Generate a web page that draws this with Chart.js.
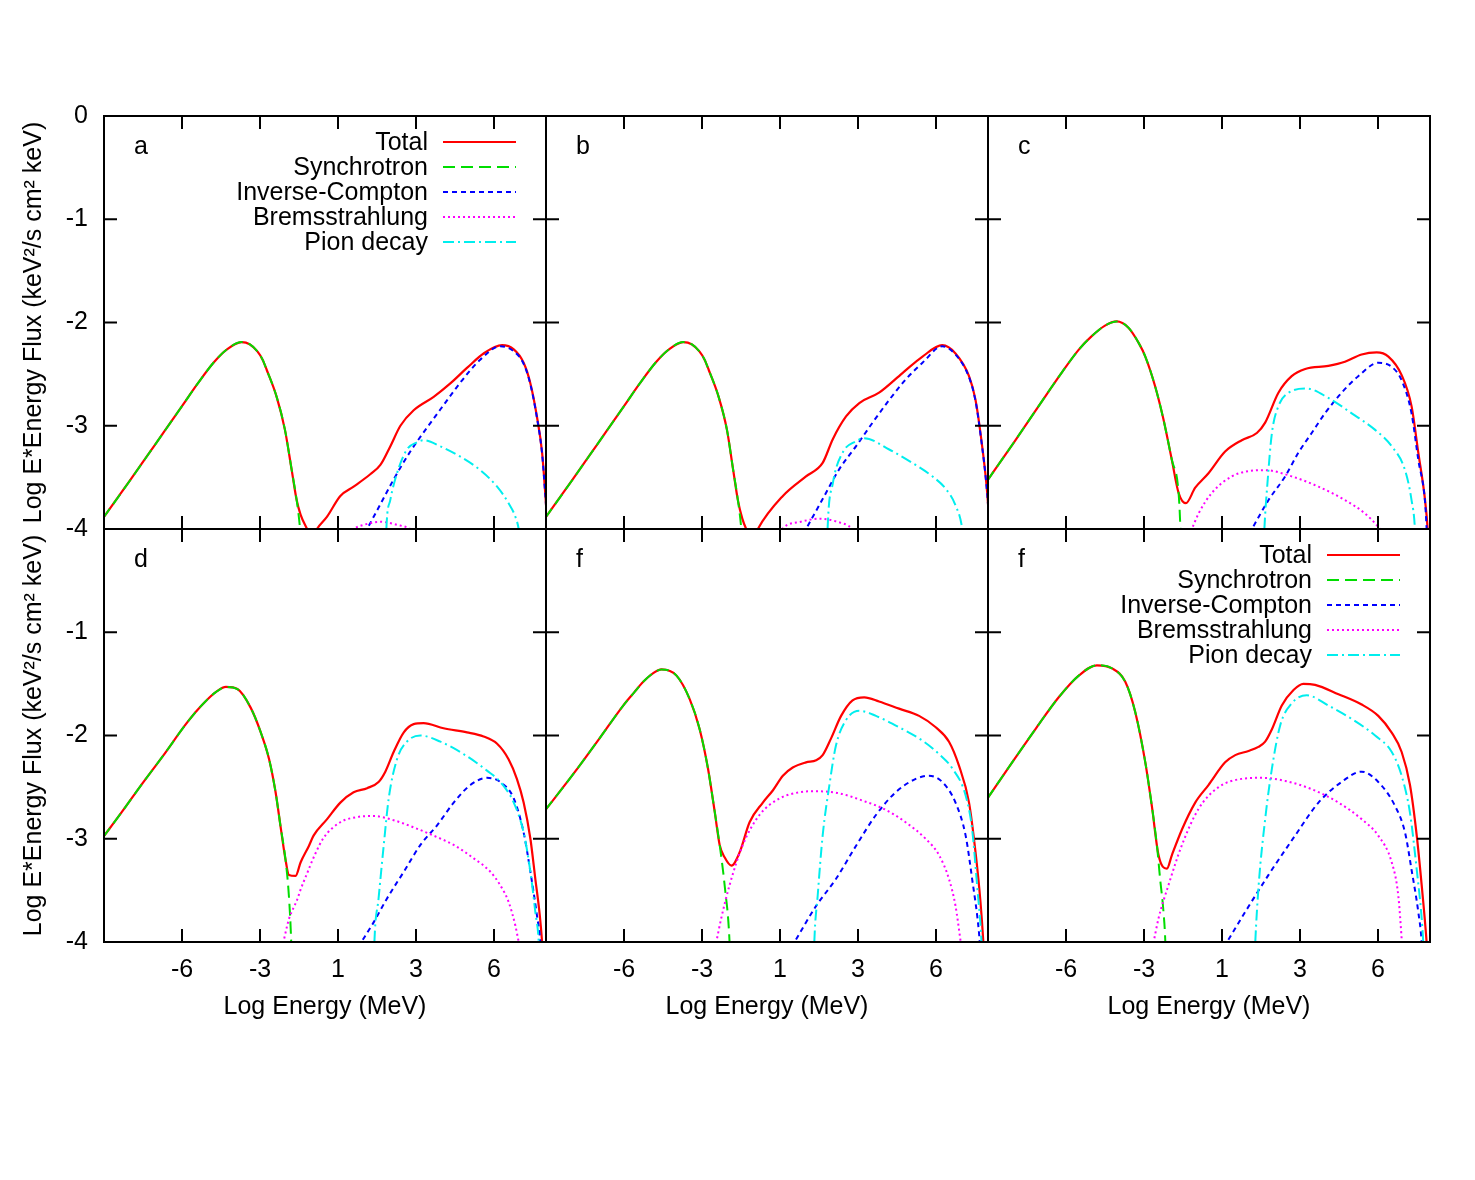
<!DOCTYPE html>
<html>
<head>
<meta charset="utf-8">
<script src="https://cdn.jsdelivr.net/npm/chart.js@4.4.0/dist/chart.umd.min.js"></script>
<style>
  html, body { margin: 0; background: #fff; }
  #wrap { position: relative; width: 1475px; height: 1180px; background: #fff; }
  #wrap canvas { position: absolute; }
</style>
</head>
<body>
<div id="wrap"></div>
<script>
/* Six SED panels — Log E*Energy Flux vs Log Energy, one Chart.js chart per panel */

const X_TICKS = [-6, -3, 0, 3, 6];
const X_TICK_LABELS = ['-6', '-3', '1', '3', '6'];
const Y_TICKS = [0, -1, -2, -3, -4];
const LETTERS = ['a', 'b', 'c', 'd', 'f', 'f'];
const SERIES_NAMES = ['Total', 'Synchrotron', 'Inverse-Compton', 'Bremsstrahlung', 'Pion decay'];

// panel a
const totalA = [[-9.05,-3.9],[-8,-3.53],[-7,-3.17],[-6,-2.81],[-5.42,-2.6],[-4.79,-2.39],[-4.27,-2.26],[-3.7,-2.19],[-3.4,-2.21],[-3.1,-2.28],[-2.9,-2.36],[-2.74,-2.46],[-2.36,-2.72],[-2.04,-3.04],[-1.78,-3.43],[-1.59,-3.72],[-1.44,-3.86],[-1.19,-4.0],[-1.0,-4.1],[-0.81,-4.0],[-0.42,-3.88],[0.09,-3.68],[0.6,-3.59],[1.24,-3.47],[1.63,-3.38],[2.01,-3.2],[2.4,-3.0],[2.91,-2.85],[3.68,-2.72],[4.32,-2.59],[4.96,-2.44],[5.6,-2.3],[6.31,-2.22],[6.76,-2.26],[7.14,-2.39],[7.4,-2.59],[7.65,-2.91],[7.85,-3.26],[7.97,-3.65],[8.05,-3.95]];
const syncA = [[-9.05,-3.9],[-8,-3.53],[-7,-3.17],[-6,-2.81],[-5.42,-2.6],[-4.79,-2.39],[-4.27,-2.26],[-3.7,-2.19],[-3.4,-2.21],[-3.1,-2.28],[-2.9,-2.36],[-2.74,-2.46],[-2.36,-2.72],[-2.04,-3.04],[-1.78,-3.43],[-1.59,-3.72],[-1.46,-4.0],[-1.38,-4.3]];
const icA = [[0.7,-4.2],[1.12,-4.0],[1.63,-3.76],[2.14,-3.52],[2.78,-3.25],[3.42,-3.02],[4.06,-2.8],[4.71,-2.58],[5.47,-2.36],[6.24,-2.23],[6.76,-2.28],[7.14,-2.4],[7.4,-2.6],[7.65,-2.92],[7.85,-3.27],[7.97,-3.66],[8.05,-3.96]];
const bremsA = [[0.4,-4.05],[0.6,-4.0],[0.99,-3.96],[1.63,-3.93],[2.27,-3.96],[2.78,-4.0],[3.0,-4.05]];
const pionA = [[1.84,-4.2],[1.86,-4.0],[2.01,-3.72],[2.27,-3.46],[2.65,-3.23],[3.04,-3.16],[3.29,-3.14],[3.94,-3.2],[4.71,-3.3],[5.47,-3.43],[6.12,-3.59],[6.56,-3.75],[6.82,-3.88],[6.95,-4.0],[7.0,-4.1]];

// panel b
const totalB = [[-9.05,-3.9],[-8,-3.53],[-7,-3.17],[-6,-2.81],[-5.42,-2.6],[-4.79,-2.39],[-4.27,-2.26],[-3.72,-2.19],[-3.4,-2.21],[-3.1,-2.28],[-2.9,-2.36],[-2.74,-2.46],[-2.36,-2.72],[-2.04,-3.04],[-1.8,-3.43],[-1.62,-3.72],[-1.45,-3.9],[-1.3,-4.0],[-1.05,-4.12],[-0.85,-4.0],[0.11,-3.68],[1.0,-3.49],[1.64,-3.36],[2.03,-3.13],[2.54,-2.91],[3.05,-2.78],[3.81,-2.68],[4.71,-2.49],[5.48,-2.33],[6.24,-2.22],[6.75,-2.3],[7.27,-2.52],[7.52,-2.75],[7.71,-3.07],[7.97,-3.65],[8.05,-3.95]];
const syncB = [[-9.05,-3.9],[-8,-3.53],[-7,-3.17],[-6,-2.81],[-5.42,-2.6],[-4.79,-2.39],[-4.27,-2.26],[-3.72,-2.19],[-3.4,-2.21],[-3.1,-2.28],[-2.9,-2.36],[-2.74,-2.46],[-2.36,-2.72],[-2.04,-3.04],[-1.8,-3.43],[-1.62,-3.72],[-1.49,-4.0],[-1.42,-4.3]];
const icB = [[0.55,-4.2],[1.0,-4.0],[1.64,-3.71],[2.28,-3.42],[2.92,-3.2],[3.56,-2.97],[4.2,-2.75],[4.84,-2.55],[5.48,-2.39],[6.24,-2.23],[6.75,-2.31],[7.27,-2.53],[7.52,-2.76],[7.71,-3.08],[7.97,-3.66],[8.05,-3.96]];
const bremsB = [[0.0,-4.05],[0.09,-4.0],[0.8,-3.93],[1.51,-3.9],[2.2,-3.93],[2.78,-4.0],[2.9,-4.05]];
const pionB = [[1.81,-4.2],[1.83,-4.0],[2.03,-3.56],[2.41,-3.26],[2.92,-3.15],[3.24,-3.12],[4.2,-3.23],[5.09,-3.36],[5.86,-3.49],[6.37,-3.61],[6.75,-3.77],[7.01,-4.0],[7.05,-4.1]];

// panel c
const totalC = [[-9.05,-3.54],[-8,-3.16],[-7,-2.79],[-6.15,-2.48],[-5.5,-2.26],[-5.0,-2.13],[-4.5,-2.03],[-4.05,-1.99],[-3.6,-2.05],[-3.2,-2.2],[-2.95,-2.33],[-2.57,-2.62],[-2.25,-2.94],[-1.93,-3.33],[-1.67,-3.65],[-1.39,-3.75],[-1.03,-3.6],[-0.52,-3.46],[0.12,-3.25],[0.76,-3.14],[1.34,-3.07],[1.66,-2.97],[2.17,-2.68],[2.68,-2.52],[3.2,-2.45],[4.09,-2.42],[4.73,-2.38],[5.37,-2.31],[5.95,-2.29],[6.4,-2.33],[6.91,-2.51],[7.29,-2.81],[7.55,-3.26],[7.81,-3.72],[7.91,-4.0],[7.95,-4.2]];
const syncC = [[-9.05,-3.54],[-8,-3.16],[-7,-2.79],[-6.15,-2.48],[-5.5,-2.26],[-5.0,-2.13],[-4.5,-2.03],[-4.05,-1.99],[-3.6,-2.05],[-3.2,-2.2],[-2.95,-2.33],[-2.57,-2.62],[-2.25,-2.94],[-1.93,-3.33],[-1.67,-3.65],[-1.6,-4.0],[-1.57,-4.3]];
const icC = [[0.7,-4.2],[1.15,-4.0],[1.79,-3.72],[2.43,-3.49],[2.94,-3.26],[3.45,-3.07],[3.96,-2.88],[4.6,-2.68],[5.24,-2.52],[6.01,-2.39],[6.53,-2.43],[6.91,-2.56],[7.29,-2.88],[7.55,-3.33],[7.81,-3.74],[7.87,-4.0],[7.9,-4.2]];
const bremsC = [[-1.5,-4.2],[-1.16,-4.0],[-0.9,-3.85],[-0.39,-3.65],[0.38,-3.49],[1.0,-3.44],[1.66,-3.43],[2.68,-3.49],[3.71,-3.59],[4.73,-3.72],[5.5,-3.85],[6.01,-3.98],[6.3,-4.08]];
const pionC = [[1.6,-4.2],[1.63,-4.0],[1.75,-3.55],[1.92,-3.07],[2.17,-2.81],[2.56,-2.68],[3.26,-2.64],[4.09,-2.73],[4.99,-2.88],[5.89,-3.04],[6.53,-3.2],[7.04,-3.43],[7.29,-3.72],[7.42,-4.0],[7.45,-4.2]];

// panel d
const totalD = [[-9.05,-2.99],[-8.34,-2.75],[-7.57,-2.48],[-6.68,-2.18],[-5.91,-1.91],[-5.5,-1.78],[-5.1,-1.67],[-4.7,-1.58],[-4.31,-1.53],[-3.87,-1.55],[-3.36,-1.73],[-2.97,-1.97],[-2.65,-2.23],[-2.4,-2.55],[-2.21,-2.88],[-2.02,-3.2],[-1.89,-3.35],[-1.63,-3.36],[-1.44,-3.23],[-1.12,-3.07],[-0.94,-2.97],[-0.42,-2.81],[0.09,-2.65],[0.6,-2.55],[1.12,-2.51],[1.56,-2.45],[1.82,-2.35],[2.14,-2.16],[2.53,-1.97],[2.91,-1.89],[3.29,-1.88],[4.06,-1.93],[4.96,-1.97],[5.6,-2.01],[6.12,-2.08],[6.56,-2.23],[6.88,-2.42],[7.14,-2.65],[7.4,-3.0],[7.59,-3.39],[7.76,-3.74],[7.85,-4.0],[7.9,-4.2]];
const syncD = [[-9.05,-2.99],[-8.34,-2.75],[-7.57,-2.48],[-6.68,-2.18],[-5.91,-1.91],[-5.5,-1.78],[-5.1,-1.67],[-4.7,-1.58],[-4.31,-1.53],[-3.87,-1.55],[-3.36,-1.73],[-2.97,-1.97],[-2.65,-2.23],[-2.4,-2.55],[-2.21,-2.88],[-2.02,-3.2],[-1.89,-3.55],[-1.8,-4.0],[-1.77,-4.3]];
const icD = [[0.4,-4.2],[0.9,-4.0],[1.37,-3.81],[1.88,-3.58],[2.53,-3.32],[3.17,-3.06],[3.81,-2.87],[4.45,-2.65],[5.09,-2.48],[5.73,-2.41],[6.24,-2.45],[6.76,-2.61],[7.14,-2.94],[7.4,-3.32],[7.65,-3.74],[7.78,-4.0],[7.82,-4.2]];
const bremsD = [[-2.3,-4.2],[-2.1,-4.0],[-1.89,-3.78],[-1.57,-3.59],[-1.45,-3.5],[-1.18,-3.33],[-0.9,-3.16],[-0.55,-2.99],[0.09,-2.84],[0.73,-2.79],[1.37,-2.78],[2.14,-2.82],[2.91,-2.89],[3.68,-2.97],[4.45,-3.06],[5.22,-3.19],[5.86,-3.32],[6.24,-3.45],[6.56,-3.61],[6.82,-3.84],[6.95,-4.0],[7.11,-4.2]];
const pionD = [[1.38,-4.2],[1.4,-4.0],[1.56,-3.58],[1.76,-3.06],[1.95,-2.61],[2.27,-2.23],[2.65,-2.06],[3.17,-2.0],[3.94,-2.06],[4.83,-2.18],[5.73,-2.34],[6.24,-2.45],[6.76,-2.65],[7.14,-2.94],[7.4,-3.32],[7.59,-3.71],[7.72,-4.0],[7.75,-4.2]];

// panel e (labelled f in the figure)
const totalE = [[-9.05,-2.73],[-7.94,-2.37],[-6.92,-2.02],[-6.03,-1.71],[-5.6,-1.58],[-5.26,-1.48],[-4.9,-1.4],[-4.56,-1.36],[-3.98,-1.42],[-3.47,-1.65],[-3.09,-1.94],[-2.77,-2.32],[-2.51,-2.74],[-2.32,-3.06],[-2.13,-3.18],[-1.87,-3.26],[-1.55,-3.13],[-1.17,-2.84],[-0.66,-2.65],[-0.27,-2.53],[0.11,-2.39],[0.49,-2.31],[1.0,-2.26],[1.39,-2.24],[1.64,-2.19],[1.96,-2.03],[2.35,-1.81],[2.79,-1.66],[3.24,-1.63],[3.81,-1.67],[4.58,-1.74],[5.35,-1.81],[5.99,-1.92],[6.5,-2.06],[6.88,-2.29],[7.27,-2.65],[7.52,-3.13],[7.71,-3.61],[7.82,-4.0],[7.86,-4.2]];
const syncE = [[-9.05,-2.73],[-7.94,-2.37],[-6.92,-2.02],[-6.03,-1.71],[-5.6,-1.58],[-5.26,-1.48],[-4.9,-1.4],[-4.56,-1.36],[-3.98,-1.42],[-3.47,-1.65],[-3.09,-1.94],[-2.77,-2.32],[-2.51,-2.74],[-2.32,-3.06],[-2.13,-3.45],[-1.94,-4.0],[-1.9,-4.3]];
const icE = [[0.08,-4.2],[0.56,-4.0],[1.39,-3.65],[2.15,-3.39],[2.92,-3.07],[3.69,-2.77],[4.45,-2.55],[5.22,-2.42],[5.73,-2.39],[6.24,-2.45],[6.75,-2.65],[7.14,-2.97],[7.39,-3.39],[7.65,-3.9],[7.68,-4.0],[7.72,-4.2]];
const bremsE = [[-2.62,-4.2],[-2.45,-4.0],[-2.26,-3.77],[-1.94,-3.45],[-1.43,-3.06],[-0.79,-2.77],[-0.02,-2.61],[0.74,-2.55],[1.39,-2.54],[2.28,-2.56],[3.17,-2.63],[4.07,-2.72],[4.83,-2.84],[5.6,-3.0],[6.12,-3.16],[6.5,-3.39],[6.75,-3.65],[6.95,-4.0],[7.06,-4.2]];
const pionE = [[1.3,-4.2],[1.32,-4.0],[1.45,-3.55],[1.64,-2.97],[1.9,-2.48],[2.15,-2.1],[2.54,-1.85],[3.05,-1.76],[3.69,-1.81],[4.58,-1.92],[5.48,-2.05],[6.12,-2.18],[6.63,-2.32],[7.14,-2.58],[7.39,-2.91],[7.58,-3.45],[7.75,-4.0],[7.78,-4.2]];

// panel f
const totalF = [[-9.05,-2.62],[-8.07,-2.26],[-7.18,-1.94],[-6.28,-1.63],[-5.51,-1.42],[-4.81,-1.32],[-4.23,-1.35],[-3.72,-1.48],[-3.34,-1.77],[-2.95,-2.26],[-2.7,-2.68],[-2.44,-3.16],[-2.12,-3.29],[-1.93,-3.16],[-1.54,-2.91],[-1.03,-2.65],[-0.52,-2.48],[0.12,-2.26],[0.51,-2.19],[1.02,-2.15],[1.4,-2.11],[1.66,-2.06],[1.92,-1.94],[2.3,-1.71],[2.75,-1.56],[3.13,-1.5],[3.58,-1.51],[4.48,-1.6],[5.37,-1.7],[6.01,-1.81],[6.52,-1.97],[6.91,-2.16],[7.23,-2.48],[7.49,-2.97],[7.68,-3.45],[7.87,-4.0],[7.92,-4.2]];
const syncF = [[-9.05,-2.62],[-8.07,-2.26],[-7.18,-1.94],[-6.28,-1.63],[-5.51,-1.42],[-4.81,-1.32],[-4.23,-1.35],[-3.72,-1.48],[-3.34,-1.77],[-2.95,-2.26],[-2.7,-2.68],[-2.5,-3.07],[-2.38,-3.39],[-2.25,-3.71],[-2.18,-4.0],[-2.15,-4.3]];
const icF = [[-0.3,-4.2],[0.19,-4.0],[0.89,-3.71],[1.79,-3.35],[2.81,-2.97],[3.71,-2.65],[4.6,-2.45],[5.37,-2.35],[6.01,-2.45],[6.65,-2.68],[7.04,-2.94],[7.29,-3.3],[7.55,-3.71],[7.68,-4.0],[7.72,-4.2]];
const bremsF = [[-2.8,-4.2],[-2.63,-4.0],[-2.44,-3.77],[-2.06,-3.45],[-1.54,-3.06],[-0.9,-2.71],[-0.13,-2.5],[0.76,-2.42],[1.53,-2.41],[2.43,-2.44],[3.45,-2.52],[4.48,-2.65],[5.37,-2.81],[6.01,-2.97],[6.53,-3.23],[6.78,-3.55],[6.91,-3.97],[6.97,-4.2]];
const pionF = [[1.25,-4.2],[1.28,-4.0],[1.41,-3.45],[1.66,-2.81],[1.92,-2.32],[2.24,-1.9],[2.68,-1.69],[3.26,-1.61],[4.09,-1.71],[4.99,-1.84],[5.89,-2.0],[6.53,-2.16],[6.91,-2.39],[7.23,-2.75],[7.49,-3.3],[7.68,-3.77],[7.74,-4.0],[7.78,-4.2]];

const PANEL_DATA = [
  [totalA, syncA, icA, bremsA, pionA],
  [totalB, syncB, icB, bremsB, pionB],
  [totalC, syncC, icC, bremsC, pionC],
  [totalD, syncD, icD, bremsD, pionD],
  [totalE, syncE, icE, bremsE, pionE],
  [totalF, syncF, icF, bremsF, pionF]
];

// styles / layout
const STYLES = [
  { color: '#ff0000', dash: [], width: 2.2, order: 4 },
  { color: '#00dd00', dash: [12, 6], width: 2, order: 3 },
  { color: '#0000ff', dash: [5, 4], width: 2, order: 2 },
  { color: '#ff00ff', dash: [2, 3], width: 2, order: 1 },
  { color: '#00eeee', dash: [11, 4, 2, 4], width: 2, order: 0 }
];
const FONT = { family: "'Liberation Sans', Arial, Helvetica, sans-serif", size: 25 };
const COL_LEFT = [104, 546, 988], ROW_TOP = [116, 529];
const PW = 442, PH = 413, PAD_L = 104, PAD_T = 20, PAD_R = 20, PAD_B = 100, TICK = 13;

const framePlugin = {
  id: 'frame',
  afterDraw(chart, args, o) {
    const { ctx, chartArea: a, scales: { x, y } } = chart;
    ctx.save();
    ctx.strokeStyle = '#000';
    ctx.lineWidth = 2;
    ctx.strokeRect(a.left, a.top, a.width, a.height);
    ctx.beginPath();
    X_TICKS.forEach(v => {
      const px = x.getPixelForValue(v);
      ctx.moveTo(px, a.bottom); ctx.lineTo(px, a.bottom - TICK);
      ctx.moveTo(px, a.top); ctx.lineTo(px, a.top + TICK);
    });
    Y_TICKS.forEach(v => {
      const py = y.getPixelForValue(v);
      ctx.moveTo(a.left, py); ctx.lineTo(a.left + TICK, py);
      ctx.moveTo(a.right, py); ctx.lineTo(a.right - TICK, py);
    });
    ctx.stroke();
    ctx.fillStyle = '#000';
    ctx.font = `${FONT.size}px ${FONT.family}`;
    ctx.textBaseline = 'alphabetic';
    ctx.textAlign = 'left';
    ctx.fillText(o.letter, a.left + 30, a.top + 38);
    if (o.legend) {
      chart.data.datasets.forEach((ds, i) => {
        ctx.textAlign = 'right';
        ctx.fillStyle = '#000';
        ctx.fillText(ds.label, a.left + 324, a.top + 34 + 25 * i);
        ctx.beginPath();
        ctx.strokeStyle = ds.borderColor;
        ctx.lineWidth = ds.borderWidth;
        ctx.setLineDash(ds.borderDash);
        ctx.moveTo(a.left + 339, a.top + 26 + 25 * i);
        ctx.lineTo(a.left + 412, a.top + 26 + 25 * i);
        ctx.stroke();
        ctx.setLineDash([]);
      });
    }
    ctx.restore();
  }
};

// fixed axis boxes so every plot area lands on the same grid
const noPad = s => { s.paddingTop = 0; s.paddingBottom = 0; s.paddingLeft = 0; s.paddingRight = 0; };

const wrap = document.getElementById('wrap');

PANEL_DATA.forEach((series, p) => {
  const col = p % 3, row = Math.floor(p / 3);
  const isLeft = col === 0, isBottom = row === 1;
  const cv = document.createElement('canvas');
  cv.width = PAD_L + PW + PAD_R;
  cv.height = PAD_T + PH + PAD_B;
  cv.style.left = (COL_LEFT[col] - PAD_L) + 'px';
  cv.style.top = (ROW_TOP[row] - PAD_T) + 'px';
  wrap.appendChild(cv);

  new Chart(cv, {
    type: 'line',
    data: {
      datasets: series.map((d, i) => ({
        label: SERIES_NAMES[i],
        data: d,
        borderColor: STYLES[i].color,
        borderDash: STYLES[i].dash,
        borderWidth: STYLES[i].width,
        order: STYLES[i].order,
        pointRadius: 0,
        fill: false,
        cubicInterpolationMode: 'monotone'
      }))
    },
    options: {
      responsive: false,
      animation: false,
      events: [],
      layout: { padding: { top: PAD_T, right: PAD_R, left: 0, bottom: 0 } },
      plugins: {
        legend: { display: false },
        tooltip: { enabled: false },
        frame: { letter: LETTERS[p], legend: p === 0 || p === 5 }
      },
      scales: {
        x: {
          type: 'linear', min: -9, max: 8,
          afterFit: s => { s.height = PAD_B; noPad(s); },
          afterBuildTicks: s => { s.ticks = X_TICKS.map(v => ({ value: v })); },
          grid: { display: false, drawTicks: false },
          border: { display: false },
          ticks: {
            display: isBottom, autoSkip: false, maxRotation: 0, padding: 13,
            color: '#000', font: FONT,
            callback: v => X_TICK_LABELS[X_TICKS.indexOf(v)]
          },
          title: { display: isBottom, text: 'Log Energy (MeV)', color: '#000', font: FONT, padding: { bottom: 20 } }
        },
        y: {
          type: 'linear', min: -4, max: 0,
          afterFit: s => { s.width = PAD_L; noPad(s); },
          grid: { display: false, drawTicks: false },
          border: { display: false },
          ticks: {
            display: isLeft, stepSize: 1, padding: 16,
            color: '#000', font: FONT,
            callback: v => (isBottom && v === 0) ? '' : String(v)
          },
          title: { display: isLeft, text: 'Log E*Energy Flux (keV²/s cm² keV)', color: '#000', font: FONT, padding: { top: 19 } }
        }
      }
    },
    plugins: [framePlugin]
  });
});
</script>
</body>
</html>
